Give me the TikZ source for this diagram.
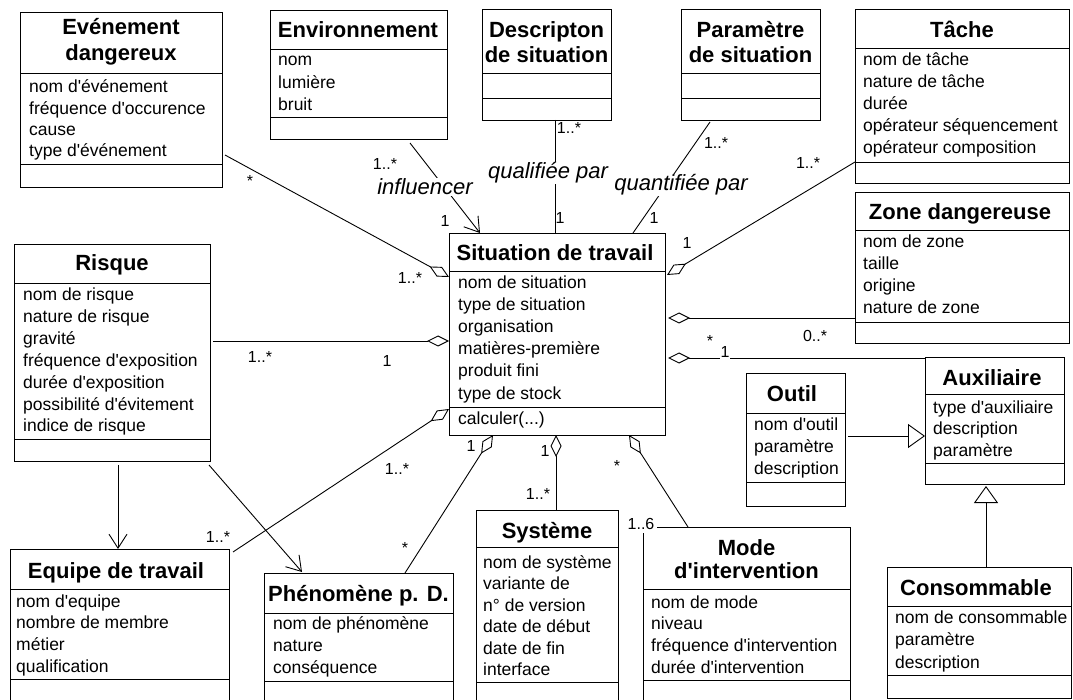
\documentclass[tikz,border=0pt]{standalone}
\usepackage{fontspec}
\setmainfont{Liberation Sans}[Ligatures=TeXOff]
\usetikzlibrary{arrows.meta,calc}
\newcommand\umlbox[5]{\node[box,minimum width=#4pt,minimum height=#5pt] (#1) at (#2,#3) {};}
\newcommand\dv[2]{\draw[conn] (#1.west |- 0,#2) -- (#1.east |- 0,#2);}
\begin{document}
\begin{tikzpicture}[x=1pt,y=-1pt,
  box/.style={draw, line width=0.9pt, inner sep=0pt, outer sep=0pt, anchor=north west},
  ttl/.style={font=\bfseries\fontsize{22}{26}\selectfont, inner sep=0pt, anchor=base},
  att/.style={font=\fontsize{17.5}{21}\selectfont, inner sep=0pt, anchor=base west},
  mult/.style={font=\fontsize{16}{19}\selectfont, inner sep=1pt},
  multw/.style={mult, fill=white},
  role/.style={font=\itshape\fontsize{22}{26}\selectfont, inner sep=1pt, fill=white},
  conn/.style={line width=0.9pt},
  agg/.style={conn, {Diamond[open,length=22pt,width=11pt]}-},
  nav/.style={conn, -{Straight Barb[length=14pt,width=18pt]}},
  gen/.style={conn, -{Triangle[open,length=17pt,width=24pt]}},
]
\useasboundingbox (0,0) rectangle (1073,700);
\fill[white] (0,0) rectangle (1073,700);
\clip (0,0) rectangle (1073,700);

% ---------- boxes ----------
\umlbox{ev}{20}{12}{202}{175}
\umlbox{env}{270}{10}{177}{129}
\umlbox{desc}{482}{9}{129}{111}
\umlbox{par}{681}{9}{139}{111}
\umlbox{tache}{855}{9}{214}{174}
\umlbox{zone}{855}{192}{214}{151}
\umlbox{sit}{449}{233}{216}{202}
\umlbox{risque}{14}{244}{196}{217}
\umlbox{equipe}{10}{549}{219}{171}
\umlbox{phen}{264}{573}{189}{147}
\umlbox{sys}{476}{510}{142}{210}
\umlbox{mode}{643}{527}{207}{193}
\umlbox{outil}{746}{373}{99}{133}
\umlbox{aux}{925}{357}{139}{127}
\umlbox{cons}{887}{567}{184}{131}

% ---------- dividers ----------
\dv{ev}{73}\dv{ev}{164}
\dv{env}{49}\dv{env}{117}
\dv{desc}{73}\dv{desc}{98}
\dv{par}{73}\dv{par}{98}
\dv{tache}{48}\dv{tache}{162}
\dv{zone}{230}\dv{zone}{322}
\dv{sit}{271}\dv{sit}{407}
\dv{risque}{283}\dv{risque}{439}
\dv{equipe}{589}\dv{equipe}{679}
\dv{phen}{613}\dv{phen}{681}
\dv{sys}{547}\dv{sys}{682}
\dv{mode}{589}\dv{mode}{680}
\dv{outil}{413}\dv{outil}{482}
\dv{aux}{394}\dv{aux}{463}
\dv{cons}{606}\dv{cons}{675}

% ---------- titles ----------
\node[ttl] (ev-t1) at (121,35) {Evénement};
\node[ttl] (ev-t2) at (121,61) {dangereux};
\node[ttl] (env-t) at (358,38) {Environnement};
\node[ttl] (desc-t1) at (546.5,38) {Descripton};
\node[ttl] (desc-t2) at (546.5,62.5) {de situation};
\node[ttl] (par-t1) at (750.5,38) {Paramètre};
\node[ttl] (par-t2) at (750.5,62.5) {de situation};
\node[ttl] (tache-t) at (962,38) {Tâche};
\node[ttl] (zone-t) at (960,220) {Zone dangereuse};
\node[ttl] (sit-t) at (555,261) {Situation de travail};
\node[ttl] (risque-t) at (112,271) {Risque};
\node[ttl] (equipe-t) at (116,578) {Equipe de travail};
\node[ttl] (phen-t) at (358.5,601) {Phénomène p. D.};
\node[ttl] (sys-t) at (547,538) {Système};
\node[ttl] (mode-t1) at (746.5,555) {Mode};
\node[ttl] (mode-t2) at (746.5,578) {d'intervention};
\node[ttl] (outil-t) at (792,401) {Outil};
\node[ttl] (aux-t) at (992,385) {Auxiliaire};
\node[ttl] (cons-t) at (976,595) {Consommable};

% ---------- attributes ----------
\foreach \t [count=\i from 0] in {nom d'événement, fréquence d'occurence, cause, type d'événement}
  \node[att] (ev-a\i) at (29,93+21.3*\i) {\t};
\foreach \t [count=\i from 0] in {nom, lumière, bruit}
  \node[att] (env-a\i) at (278,66+22.5*\i) {\t};
\foreach \t [count=\i from 0] in {nom de tâche, nature de tâche, durée, opérateur séquencement, opérateur composition}
  \node[att] (tache-a\i) at (863,66+22*\i) {\t};
\foreach \t [count=\i from 0] in {nom de zone, taille, origine, nature de zone}
  \node[att] (zone-a\i) at (863,248+22*\i) {\t};
\foreach \t [count=\i from 0] in {nom de situation, type de situation, organisation, matières-première, produit fini, type de stock}
  \node[att] (sit-a\i) at (458,289+22*\i) {\t};
\node[att] (sit-op) at (458,424) {calculer(...)};
\foreach \t [count=\i from 0] in {nom de risque, nature de risque, gravité, fréquence d'exposition, durée d'exposition, possibilité d'évitement, indice de risque}
  \node[att] (risque-a\i) at (23,301+21.8*\i) {\t};
\foreach \t [count=\i from 0] in {nom d'equipe, nombre de membre, métier, qualification}
  \node[att] (equipe-a\i) at (16,607+21.7*\i) {\t};
\foreach \t [count=\i from 0] in {nom de phénomène, nature, conséquence}
  \node[att] (phen-a\i) at (273,629+22*\i) {\t};
\foreach \t [count=\i from 0] in {nom de système, variante de, n° de version, date de début, date de fin, interface}
  \node[att] (sys-a\i) at (483,568+21.5*\i) {\t};
\foreach \t [count=\i from 0] in {nom de mode, niveau, fréquence d'intervention, durée d'intervention}
  \node[att] (mode-a\i) at (651,608+21.7*\i) {\t};
\foreach \t [count=\i from 0] in {nom d'outil, paramètre, description}
  \node[att] (outil-a\i) at (754,430+22*\i) {\t};
\foreach \t [count=\i from 0] in {type d'auxiliaire, description, paramètre}
  \node[att] (aux-a\i) at (933,413+21.7*\i) {\t};
\foreach \t [count=\i from 0] in {nom de consommable, paramètre, description}
  \node[att] (cons-a\i) at (895,623+22.5*\i) {\t};

% ---------- connectors ----------
\draw[agg] (sit.west |- 0,277) -- ($(ev.east |- 0,155)+(3,0)$);
\draw[nav] ($(env.south west)+(140,4)$) -- ($(sit.north west)+(31,0)$);
\draw[conn] ($(desc.south west)+(73,0)$) -- ($(sit.north west)+(106,0)$);
\draw[conn] ($(par.south west)+(29,2)$) -- ($(sit.north west)+(184,0)$);
\draw[agg] ($(sit.east |- 0,275)+(2,0)$) -- (tache.west |- 0,162);
\draw[agg] ($(sit.east |- 0,318)+(3,0)$) -- (zone.west |- 0,318);
\draw[agg] ($(sit.east |- 0,358)+(3,0)$) -- (aux.west |- 0,358);
\draw[agg] (sit.west |- 0,341) -- ($(risque.east |- 0,341)+(3,0)$);
\draw[agg] (sit.west |- 0,409) -- ($(equipe.north east)+(4,3)$);
\draw[agg] ($(sit.south west)+(44,0)$) -- ($(phen.north west)+(141,0)$);
\draw[agg] ($(sit.south west)+(107,0)$) -- ($(sys.north west)+(80,0)$);
\draw[agg] ($(sit.south west)+(180,0)$) -- ($(mode.north west)+(45,0)$);
\draw[gen] ($(outil.east |- 0,436)+(3,0)$) -- (aux.west |- 0,436);
\draw[gen] ($(cons.north west)+(99,0)$) -- ($(aux.south west)+(61,2)$);
\draw[nav] ($(risque.south west)+(104,4)$) -- ($(equipe.north west)+(108,0)$);
\draw[nav] ($(risque.south east)+(-1,4)$) -- ($(phen.north west)+(38,-1)$);

% ---------- labels ----------
\node[mult] (l-ev1) at (250,181) {*};
\node[mult] (l-ev2) at (410,278) {1..*};
\node[role] (l-inf) at (425,187) {influencer};
\node[mult] (l-env1) at (385,164) {1..*};
\node[mult] (l-env2) at (445,221) {1};
\node[role] (l-qual) at (548,173) {qualifiée par};
\node[mult] (l-desc1) at (569,128) {1..*};
\node[mult] (l-desc2) at (560,218) {1};
\node[role] (l-quant) at (681,185) {quantifiée par};
\node[mult] (l-par1) at (716,143) {1..*};
\node[mult] (l-par2) at (654,218) {1};
\node[mult] (l-t1) at (808,163) {1..*};
\node[mult] (l-t2) at (687,243) {1};
\node[mult] (l-z1) at (815,336) {0..*};
\node[mult] (l-a1) at (710,341) {*};
\node[multw] (l-a2) at (725,352) {1};
\node[mult] (l-r1) at (260,357) {1..*};
\node[mult] (l-r2) at (387,361) {1};
\node[mult] (l-e1) at (397,469) {1..*};
\node[mult] (l-e2) at (218,537) {1..*};
\node[mult] (l-p1) at (471,446) {1};
\node[mult] (l-p2) at (405,548) {*};
\node[mult] (l-s1) at (545,451) {1};
\node[mult] (l-s2) at (538,494) {1..*};
\node[mult] (l-m1) at (617,466) {*};
\node[multw, inner sep=3pt] (l-m2) at (641,524) {1..6};
\end{tikzpicture}
\end{document}
